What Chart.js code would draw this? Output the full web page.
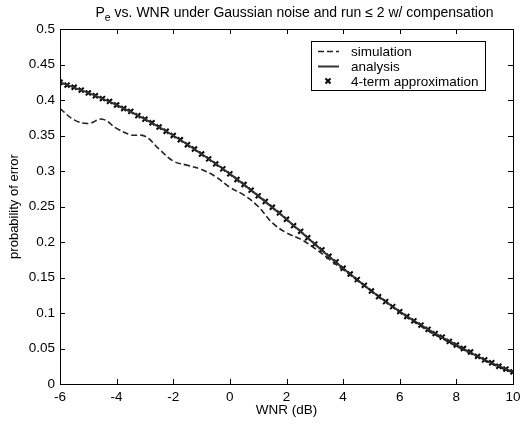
<!DOCTYPE html>
<html lang="en">
<head>
    <meta charset="UTF-8">
    <title>Pe vs. WNR</title>
    <script src="https://cdn.jsdelivr.net/npm/chart.js"></script>
    <style>
        html, body {
            margin: 0;
            padding: 0;
            background: #fff;
        }

        #wrap {
            width: 530px;
            height: 425px;
        }
    </style>
</head>
<body>

<div id="wrap"><canvas id="peChart" width="530" height="425"></canvas></div>

<script>
    // WNR (dB) grids
    const simWnr = [-6, -5.5, -5, -4.5, -4, -3.5, -3, -2.5, -2, -1.5, -1, -0.5, 0, 0.5, 1, 1.5, 2,
        2.5, 3, 3.5, 4, 4.5, 5, 5.5, 6, 6.5, 7, 7.5, 8, 8.5, 9, 9.5, 10];
    const simPe = [0.388, 0.372, 0.367, 0.373, 0.360, 0.351, 0.349, 0.331, 0.314, 0.308, 0.302, 0.292, 0.277,
        0.266, 0.250, 0.227, 0.213, 0.204, 0.191, 0.176, 0.161, 0.146, 0.131, 0.117, 0.101, 0.088,
        0.075, 0.064, 0.053, 0.043, 0.033, 0.024, 0.016];

    const anaWnr = [-6, -5, -4, -3, -2, -1, 0, 1, 2, 3, 4, 5, 6, 7, 8, 9, 10];
    const anaPe = [0.425, 0.410, 0.393, 0.373, 0.350, 0.324, 0.296, 0.265, 0.232, 0.197, 0.163,
        0.131, 0.102, 0.077, 0.055, 0.034, 0.017];

    const approxWnr = [-6, -5.75, -5.5, -5.25, -5, -4.75, -4.5, -4.25, -4, -3.75, -3.5, -3.25, -3,
        -2.75, -2.5, -2.25, -2, -1.75, -1.5, -1.25, -1, -0.75, -0.5, -0.25, 0, 0.25, 0.5, 0.75, 1,
        1.25, 1.5, 1.75, 2, 2.25, 2.5, 2.75, 3, 3.25, 3.5, 3.75, 4, 4.25, 4.5, 4.75, 5, 5.25, 5.5,
        5.75, 6, 6.25, 6.5, 6.75, 7, 7.25, 7.5, 7.75, 8, 8.25, 8.5, 8.75, 9, 9.25, 9.5, 9.75, 10];
    const approxPe = [0.425, 0.421, 0.418, 0.414, 0.410, 0.406, 0.402, 0.398, 0.393, 0.388, 0.384,
        0.378, 0.373, 0.368, 0.362, 0.356, 0.350, 0.344, 0.337, 0.331, 0.324, 0.317, 0.310, 0.303,
        0.296, 0.288, 0.281, 0.273, 0.265, 0.257, 0.249, 0.241, 0.232, 0.223, 0.215, 0.206, 0.197,
        0.189, 0.180, 0.172, 0.163, 0.155, 0.147, 0.139, 0.131, 0.123, 0.116, 0.109, 0.102, 0.095,
        0.089, 0.083, 0.077, 0.071, 0.066, 0.060, 0.055, 0.050, 0.045, 0.039, 0.034, 0.030, 0.025,
        0.021, 0.017];

    const seriesNames = ['simulation', 'analysis', '4-term approximation'];
    const xTicks = [-6, -4, -2, 0, 2, 4, 6, 8, 10];
    const yTicks = [0, 0.05, 0.1, 0.15, 0.2, 0.25, 0.3, 0.35, 0.4, 0.45, 0.5];

    const FONT = 'Liberation Sans, Arial, sans-serif';
    const FS = 13.5;

    function toPoints(xs, ys) {
        return xs.map((x, i) => ({x: x, y: ys[i]}));
    }

    // MATLAB style frame: box on all sides, ticks pointing inwards, title with subscript, legend
    const matlabFrame = {
        id: 'matlabFrame',
        afterDraw(chart) {
            const ctx = chart.ctx;
            const a = chart.chartArea;
            const xs = chart.scales.x;
            const ys = chart.scales.y;
            ctx.save();
            ctx.strokeStyle = '#000';
            ctx.lineWidth = 1;
            ctx.strokeRect(a.left + 0.5, a.top + 0.5, a.right - a.left, a.bottom - a.top);
            ctx.beginPath();
            xTicks.forEach(v => {
                const px = Math.round(xs.getPixelForValue(v)) + 0.5;
                ctx.moveTo(px, a.bottom);
                ctx.lineTo(px, a.bottom - 5);
                ctx.moveTo(px, a.top);
                ctx.lineTo(px, a.top + 5);
            });
            yTicks.forEach(v => {
                const py = Math.round(ys.getPixelForValue(v)) + 0.5;
                ctx.moveTo(a.left, py);
                ctx.lineTo(a.left + 5, py);
                ctx.moveTo(a.right, py);
                ctx.lineTo(a.right - 5, py);
            });
            ctx.stroke();

            // title
            const big = '14px ' + FONT;
            const small = '10.5px ' + FONT;
            const rest = ' vs. WNR under Gaussian noise and run \u2264 2 w/ compensation';
            ctx.font = big;
            const wP = ctx.measureText('P').width;
            const wRest = ctx.measureText(rest).width;
            ctx.font = small;
            const wE = ctx.measureText('e').width;
            const total = wP + wE + wRest;
            const x0 = (a.left + a.right) / 2 + 8 - total / 2;
            const base = 17;
            ctx.fillStyle = '#000';
            ctx.textBaseline = 'alphabetic';
            ctx.textAlign = 'left';
            ctx.font = big;
            ctx.fillText('P', x0, base);
            ctx.font = small;
            ctx.fillText('e', x0 + wP, base + 4);
            ctx.font = big;
            ctx.fillText(rest, x0 + wP + wE, base);

            // legend box
            const lx = 311, ly = 41, lw = 174, lh = 49;
            ctx.fillStyle = '#fff';
            ctx.fillRect(lx, ly, lw, lh);
            ctx.strokeRect(lx + 0.5, ly + 0.5, lw, lh);
            ctx.font = FS + 'px ' + FONT;
            ctx.textBaseline = 'middle';
            const rows = [51, 66, 81];
            chart.data.datasets.forEach((ds, i) => {
                const ry = rows[i];
                ctx.save();
                if (i < 2) {
                    ctx.strokeStyle = ds.borderColor;
                    ctx.lineWidth = ds.borderWidth;
                    ctx.setLineDash(ds.borderDash || []);
                    ctx.beginPath();
                    ctx.moveTo(318, ry + 0.5);
                    ctx.lineTo(339, ry + 0.5);
                    ctx.stroke();
                } else {
                    ctx.strokeStyle = '#000';
                    ctx.lineWidth = 2;
                    ctx.beginPath();
                    ctx.moveTo(325.5, ry - 2.5);
                    ctx.lineTo(330.5, ry + 2.5);
                    ctx.moveTo(330.5, ry - 2.5);
                    ctx.lineTo(325.5, ry + 2.5);
                    ctx.stroke();
                }
                ctx.restore();
                ctx.fillStyle = '#000';
                ctx.fillText(ds.label, 351, ry + 1);
            });
            ctx.restore();
        }
    };

    const ctx = document.getElementById('peChart').getContext('2d');
    const peChart = new Chart(ctx, {
        type: 'line',
        data: {
            datasets: [{
                label: seriesNames[0],
                data: toPoints(simWnr, simPe),
                borderColor: '#222',
                borderWidth: 1.6,
                borderDash: [6, 3],
                pointRadius: 0,
                tension: 0.4,
                fill: false
            }, {
                label: seriesNames[1],
                data: toPoints(anaWnr, anaPe),
                borderColor: '#333',
                borderWidth: 2,
                pointRadius: 0,
                tension: 0.4,
                fill: false
            }, {
                label: seriesNames[2],
                data: toPoints(approxWnr, approxPe),
                borderColor: '#000',
                borderWidth: 2,
                showLine: false,
                pointStyle: 'crossRot',
                pointRadius: 3.5,
                pointBorderWidth: 2,
                pointBorderColor: '#000'
            }]
        },
        options: {
            responsive: false,
            animation: false,
            layout: {
                padding: {left: 0, right: 17, top: 29, bottom: 0}
            },
            plugins: {
                legend: {display: false},
                title: {display: false},
                tooltip: {enabled: false}
            },
            scales: {
                x: {
                    type: 'linear',
                    min: -6,
                    max: 10,
                    afterBuildTicks: s => { s.ticks = xTicks.map(v => ({value: v})); },
                    afterFit: s => { s.height = 41; },
                    grid: {display: false, drawTicks: false, tickLength: 0},
                    border: {display: true, color: '#000'},
                    ticks: {
                        color: '#000',
                        font: {family: FONT, size: FS},
                        padding: 5,
                        maxRotation: 0,
                        callback: v => String(v)
                    },
                    title: {
                        display: true,
                        text: 'WNR (dB)',
                        color: '#000',
                        font: {family: FONT, size: FS},
                        padding: {top: 0, bottom: 7}
                    }
                },
                y: {
                    type: 'linear',
                    min: 0,
                    max: 0.5,
                    afterBuildTicks: s => { s.ticks = yTicks.map(v => ({value: v})); },
                    afterFit: s => { s.width = 60; },
                    grid: {display: false, drawTicks: false, tickLength: 0},
                    border: {display: true, color: '#000'},
                    ticks: {
                        color: '#000',
                        font: {family: FONT, size: FS},
                        padding: 5,
                        callback: v => String(+v.toFixed(2))
                    },
                    title: {
                        display: true,
                        text: 'probability of error',
                        color: '#000',
                        font: {family: FONT, size: 13},
                        padding: {top: 7, bottom: 0}
                    }
                }
            }
        },
        plugins: [matlabFrame]
    });
</script>

</body>
</html>
